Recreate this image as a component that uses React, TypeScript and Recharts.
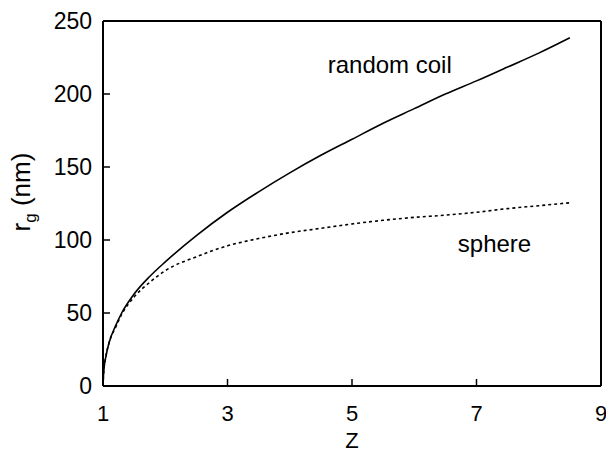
import React from 'react';
import { LineChart, Line, XAxis, YAxis, ReferenceLine, ReferenceDot } from 'recharts';

const zValues = [1, 1.01, 1.05, 1.1, 1.2, 1.3, 1.5, 1.75, 2, 2.5, 3, 3.5, 4, 4.5, 5, 5.5, 6, 6.5, 7, 7.5, 8, 8.5];
const coilValues = [0, 9, 21, 30, 41, 50, 63, 75, 85, 103, 119, 133, 146, 158, 169, 180, 190, 200, 209, 218.5, 228, 238.5];
const sphereValues = [0, 9, 21, 30, 40, 49, 61, 71, 79, 88.5, 96, 101, 105, 108, 111, 113.5, 115.5, 117, 119, 121.5, 123.5, 125.5];
const xTicks = [1, 3, 5, 7, 9];
const yTicks = [0, 50, 100, 150, 200, 250];

const data = zValues.map((z, i) => ({ z, coil: coilValues[i], sphere: sphereValues[i] }));

const FONT = '"Liberation Sans", Arial, Helvetica, sans-serif';
const FS = 23;

const XTick = (p: any) => {
  const { x, y, payload } = p;
  return (
    <g>
      <line x1={x} y1={y} x2={x} y2={y - 7} stroke="#000" strokeWidth={1.5} />
      <text x={x} y={y + 35} textAnchor="middle" fontFamily={FONT} fontSize={22} fill="#000">
        {payload.value}
      </text>
    </g>
  );
};

const YTick = (p: any) => {
  const { x, y, payload } = p;
  return (
    <g>
      <line x1={x} y1={y} x2={x + 7} y2={y} stroke="#000" strokeWidth={1.5} />
      <text x={x - 11} y={y} dy="0.36em" textAnchor="end" fontFamily={FONT} fontSize={FS} fill="#000">
        {payload.value}
      </text>
    </g>
  );
};

const XLabel = (p: any) => {
  const vb = p.viewBox;
  return (
    <text x={vb.x + vb.width / 2} y={448} textAnchor="middle" fontFamily={FONT} fontSize={22} fill="#000">
      Z
    </text>
  );
};

const YLabel = () => {
  return (
    <text transform="translate(30,192) rotate(-90)" textAnchor="middle" fontFamily={FONT} fontSize={26} fill="#000">
      r<tspan fontSize={17} dy={6}>g</tspan>
      <tspan dy={-6}> (nm)</tspan>
    </text>
  );
};

const TextShape = (txt: string) => (p: any) => (
  <text x={p.cx} y={p.cy} fontFamily={FONT} fontSize={24} fill="#000">
    {txt}
  </text>
);

export default function App() {
  return (
    <div style={{ position: 'fixed', left: 0, top: 0, width: 606, height: 453, background: '#fff' }}>
      <LineChart width={606} height={453} data={data} margin={{ top: 21, right: 5, bottom: 0, left: 0 }}>
        <XAxis
          dataKey="z"
          type="number"
          domain={[1, 9]}
          ticks={xTicks}
          height={67}
          tickSize={0}
          tickMargin={0}
          tickLine={false}
          tick={<XTick />}
          axisLine={{ stroke: '#000', strokeWidth: 2 }}
          label={<XLabel />}
          allowDataOverflow
        />
        <YAxis
          type="number"
          domain={[0, 250]}
          ticks={yTicks}
          width={103}
          tickSize={0}
          tickMargin={0}
          tickLine={false}
          tick={<YTick />}
          axisLine={{ stroke: '#000', strokeWidth: 2 }}
          label={<YLabel />}
          allowDataOverflow
        />
        <ReferenceLine y={250} stroke="#000" strokeWidth={2} />
        <ReferenceLine x={9} stroke="#000" strokeWidth={2} />
        <Line
          dataKey="coil"
          type="monotone"
          stroke="#000"
          strokeWidth={1.6}
          dot={false}
          isAnimationActive={false}
        />
        <Line
          dataKey="sphere"
          type="monotone"
          stroke="#000"
          strokeWidth={1.6}
          strokeDasharray="3 3"
          dot={false}
          isAnimationActive={false}
        />
        <ReferenceDot x={4.61} y={214.4} r={0} shape={TextShape('random coil')} ifOverflow="visible" />
        <ReferenceDot x={6.7} y={91.8} r={0} shape={TextShape('sphere')} ifOverflow="visible" />
      </LineChart>
    </div>
  );
}
